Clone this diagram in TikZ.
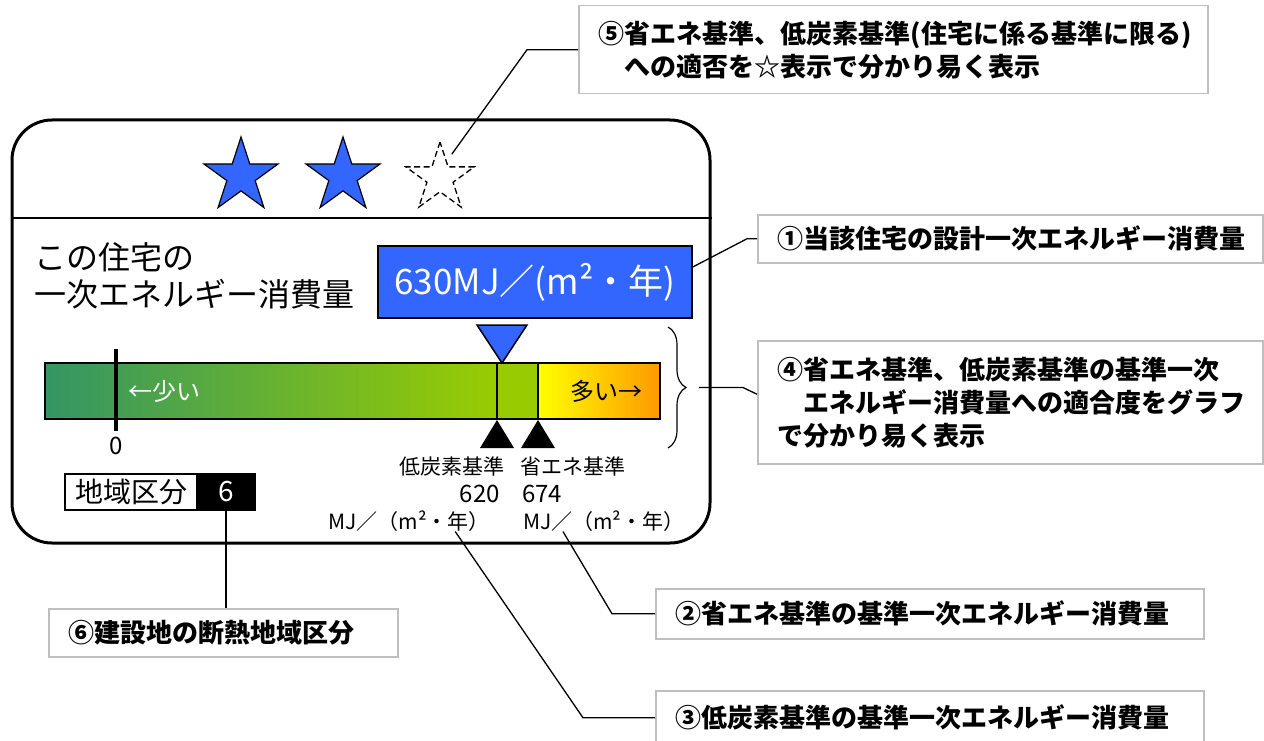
\documentclass[tikz,border=0pt]{standalone}
\usepackage{fontspec}
\setmainfont{Noto Sans CJK JP}
\usepackage{tikz}
\usetikzlibrary{shapes.geometric,positioning,decorations.pathreplacing}
\definecolor{starblue}{RGB}{51,102,255}
\definecolor{barteal}{RGB}{51,150,100}
\definecolor{baryg}{RGB}{153,204,0}
\definecolor{baryellow}{RGB}{255,255,0}
\definecolor{barorange}{RGB}{255,153,0}
\definecolor{notegrey}{RGB}{191,191,191}
\newcommand{\fsz}[2]{\fontsize{#1}{#2}\selectfont}
\tikzstyle{panel} = [draw, line width=3pt, rounded corners=40pt, minimum width=698pt, minimum height=423pt, inner sep=0pt]
\tikzstyle{bluestar} = [star, star points=5, star point ratio=2.618, draw, line width=1.2pt, fill=starblue, minimum size=78pt, inner sep=0pt]
\tikzstyle{emptystar} = [star, star points=5, star point ratio=2.618, draw, line width=1.3pt, dash pattern=on 6pt off 3.5pt, minimum size=72pt, inner sep=0pt]
\tikzstyle{valbox} = [draw, line width=1.5pt, fill=starblue, text=white, minimum width=314pt, minimum height=72pt, font=\fsz{35}{40}]
\tikzstyle{barseg} = [draw, line width=2pt, minimum height=56pt, inner sep=0pt, outer sep=0pt]
\tikzstyle{small} = [inner sep=0pt, font=\fsz{21}{25}]
\tikzstyle{number} = [inner sep=0pt, font=\fsz{24}{28}]
\tikzstyle{zonebox} = [draw, line width=1.5pt, minimum height=36pt, inner sep=0pt, outer sep=0pt, font=\fsz{28}{32}]
\tikzstyle{zeromark} = [line width=4.5pt]
\tikzstyle{note} = [draw=notegrey, line width=1.5pt, fill=white, anchor=north west, align=left, inner xsep=20pt, inner ysep=0pt, font=\bfseries\fsz{26}{33}]
\tikzstyle{lead} = [line width=1.3pt]

\begin{document}
\begin{tikzpicture}[x=1pt, y=-1pt]
\useasboundingbox (0,0) rectangle (1264,741);

% label panel ==============================
\node[panel] (panel) at (361,331.5) {};
\draw[line width=2.5pt] (panel.west |- 0,218) -- (panel.east |- 0,218);

% stars
\node[bluestar] (star1) at (241,176) {};
\node[bluestar] (star2) at (343,176) {};
\node[emptystar] (star3) at (440,178) {};

% energy value
\node[anchor=west, align=left, inner sep=0pt, font=\fsz{32}{37}] (title) at (34,276) {この住宅の\\一次エネルギー消費量};
\node[valbox] (value) at (535,282) {630MJ／(m²・年)};

% bar
\node[barseg, minimum width=452pt, left color=barteal, right color=baryg] (barlow) at (271,391) {};
\node[barseg, minimum width=41pt, fill=baryg, right=0pt of barlow] (barmid) {};
\node[barseg, minimum width=122pt, left color=baryellow, right color=barorange, right=0pt of barmid] (barhigh) {};
\node[font=\fsz{24}{28}, text=white, anchor=west, inner sep=0pt] (less) at (128,391) {←少い};
\node[font=\fsz{24}{28}, anchor=east, inner sep=0pt] (more) at (643,391) {多い→};
\node[number] (zero) at (116,446) {0};
\draw[zeromark] (zero.north |- 0,349) -- (zero.north |- 0,431);
\draw[line width=1.5pt, fill=starblue] ([xshift=5pt]barmid.north west) -- ++(-25,-38) -- ++(50,0) -- cycle;
\foreach \a in {south west, south east}
  \fill ([yshift=-1pt]barmid.\a) -- ++(17,28) -- ++(-34,0) -- cycle;

% standards
\node[small, anchor=east] (lowname) at (505,466) {低炭素基準};
\node[small, anchor=west] (savename) at (520,466) {省エネ基準};
\node[number, anchor=east] (low620) at (500,494) {620};
\node[number, anchor=west] (save674) at (522,494) {674};
\node[small, anchor=east] (unit620) at (490,521) {MJ／（m²・年）};
\node[small, anchor=west] (unit674) at (523,521) {MJ／（m²・年）};
\draw[decorate, decoration={brace, amplitude=18pt}, line width=1.2pt] (668,327) -- (668,448);
\coordinate (bracetip) at (699,387.5);

% region
\node[zonebox, minimum width=132pt] (zonename) at (131,492) {地域区分};
\node[zonebox, minimum width=58pt, fill=black, text=white, right=0pt of zonename] (zone6) {6};

% notes ==============================
\node[note, text width=589pt, minimum height=88pt] (note5) at (578,5) {⑤省エネ基準、低炭素基準(住宅に係る基準に限る)\\\hspace*{1em}への適否を☆表示で分かり易く表示};
\node[note, text width=465pt, minimum height=48pt] (note1) at (757,214) {①当該住宅の設計一次エネルギー消費量};
\node[note, text width=465pt, minimum height=123pt] (note4) at (757,340) {④省エネ基準、低炭素基準の基準一次\\\hspace*{1em}エネルギー消費量への適合度をグラフ\\で分かり易く表示};
\node[note, text width=508pt, minimum height=50pt] (note2) at (655,588) {②省エネ基準の基準一次エネルギー消費量};
\node[note, text width=508pt, minimum height=54pt] (note3) at (655,690) {③低炭素基準の基準一次エネルギー消費量};
\node[note, text width=309pt, minimum height=48pt] (note6) at (48,608) {⑥建設地の断熱地域区分};

% leads
\draw[lead] (note5.west) -- ([xshift=-51pt]note5.west) -- ([yshift=12pt]star3.north east);
\draw[lead] ([yshift=15pt]value.east) -- ([xshift=-10pt]note1.west) -- (note1.west);
\draw[lead] (bracetip) -- (bracetip -| 743,0) -- ([yshift=8pt]note4.west);
\draw[lead] ([xshift=40pt]unit674.south west) -- ([xshift=-43pt]note2.west) -- (note2.west);
\draw[lead] ([xshift=127pt]unit620.south west) -- ([xshift=-72pt]note3.west) -- (note3.west);
\draw[lead] (zone6.south) -- (zone6.south |- note6.north);

\end{tikzpicture}
\end{document}
